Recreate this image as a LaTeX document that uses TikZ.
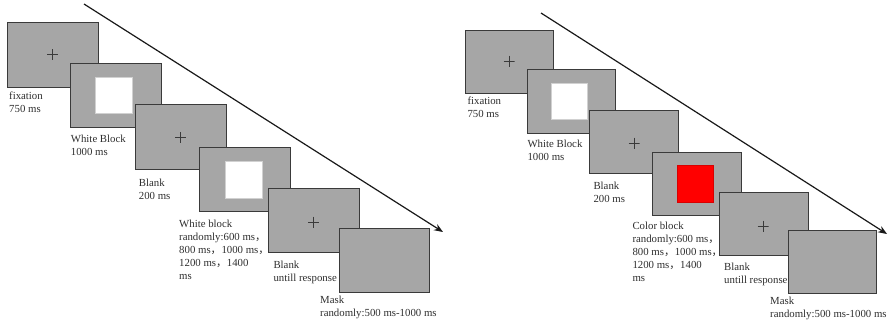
\documentclass[tikz,border=0pt]{standalone}
\usepackage{fontspec}
\setmainfont{Liberation Serif}
\newfontfamily\cjk{Noto Sans CJK SC}
\usetikzlibrary{arrows.meta}
\newcommand{\fwc}{{\cjk ，}}
\definecolor{scrgray}{HTML}{A6A6A6}
\definecolor{scredge}{HTML}{3A3A3A}
\definecolor{txt}{HTML}{2E2E2E}
\tikzset{
  screen/.style n args={2}{draw=scredge, fill=scrgray, line width=0.9pt, inner sep=0pt,
     minimum width=#1pt, minimum height=#2pt},
  whitesq/.style n args={2}{draw=black!18, fill=white, line width=0.5pt, inner sep=0pt,
     minimum width=#1pt, minimum height=#2pt},
  redsq/.style n args={2}{draw=red!85!black, fill=red, line width=0.4pt, inner sep=0pt,
     minimum width=#1pt, minimum height=#2pt},
  plussign/.style={inner sep=0pt, minimum size=11pt,
     path picture={\draw[scredge, line width=0.8pt]
       (path picture bounding box.north) -- (path picture bounding box.south)
       (path picture bounding box.west) -- (path picture bounding box.east);}},
  lbl/.style={anchor=base west, align=left, inner sep=0pt, text=txt,
     font=\fontsize{10.8}{13}\selectfont},
  timearrow/.style={line width=1.2pt, black!90, -{Stealth[length=9pt,width=7pt]}}
}
\begin{document}
\begin{tikzpicture}[x=1pt,y=-1pt]
\useasboundingbox (0,0) rectangle (888,322);

% ---------------- left panel ----------------
\node[screen={91}{65}] (l1) at (52.5,54.5) {};
\node[plussign] (lp1) at (l1.center) {};
\node[screen={91}{64}] (l2) at (115.5,95) {};
\node[whitesq={37}{36}] (lw2) at (113.5,95) {};
\node[screen={91}{65}] (l3) at (180.5,136.5) {};
\node[plussign] (lp3) at (180.5,137.5) {};
\node[screen={91}{64}] (l4) at (244.5,179) {};
\node[whitesq={37}{37}] (lw4) at (243.5,179.5) {};
\node[screen={91}{64}] (l5) at (313.5,220) {};
\node[plussign] (lp5) at (313.5,222) {};
\node[screen={90}{64}] (l6) at (384,260) {};

% (anchor = baseline of the last line)
\node[lbl] (lt1) at (9,112) {fixation\\750 ms};
\node[lbl] (lt2) at (70.7,155.7) {White Block\\1000 ms};
\node[lbl] (lt3) at (138.7,199.3) {Blank\\200 ms};
\node[lbl] (lt4) at (179,279) {White block\\randomly:600 ms\fwc\\800 ms\fwc 1000 ms\fwc\\1200 ms\fwc 1400\\ms};
\node[lbl] (lt5) at (273.3,281) {Blank\\untill response};
\node[lbl] (lt6) at (320,316.7) {Mask\\randomly:500 ms-1000 ms};

\coordinate (la) at (84,4);
\coordinate (lb) at (443,232);
\draw[timearrow] (la) -- (lb);

% ---------------- right panel ----------------
\node[screen={88}{63}] (r1) at (509,61.5) {};
\node[plussign] (rp1) at (509,61) {};
\node[screen={88}{64}] (r2) at (571,101) {};
\node[whitesq={36}{36}] (rw2) at (569,101) {};
\node[screen={89}{63}] (r3) at (633.5,141.5) {};
\node[plussign] (rp3) at (634,143) {};
\node[screen={89}{63}] (r4) at (696.5,183.5) {};
\node[redsq={36}{37}] (rr4) at (695,183.5) {};
\node[screen={89}{63}] (r5) at (763.5,223.5) {};
\node[plussign] (rp5) at (763,226) {};
\node[screen={88}{63}] (r6) at (832,261.5) {};

\node[lbl] (rt1) at (467.3,117.7) {fixation\\750 ms};
\node[lbl] (rt2) at (527.3,160.3) {White Block\\1000 ms};
\node[lbl] (rt3) at (593.3,202.7) {Blank\\200 ms};
\node[lbl] (rt4) at (632.3,281) {Color block\\randomly:600 ms\fwc\\800 ms\fwc 1000 ms\fwc\\1200 ms\fwc 1400\\ms};
\node[lbl] (rt5) at (724,283) {Blank\\untill response};
\node[lbl] (rt6) at (770,317.3) {Mask\\randomly:500 ms-1000 ms};

\coordinate (ra) at (541,13);
\coordinate (rb) at (887,234);
\draw[timearrow] (ra) -- (rb);
\end{tikzpicture}
\end{document}
